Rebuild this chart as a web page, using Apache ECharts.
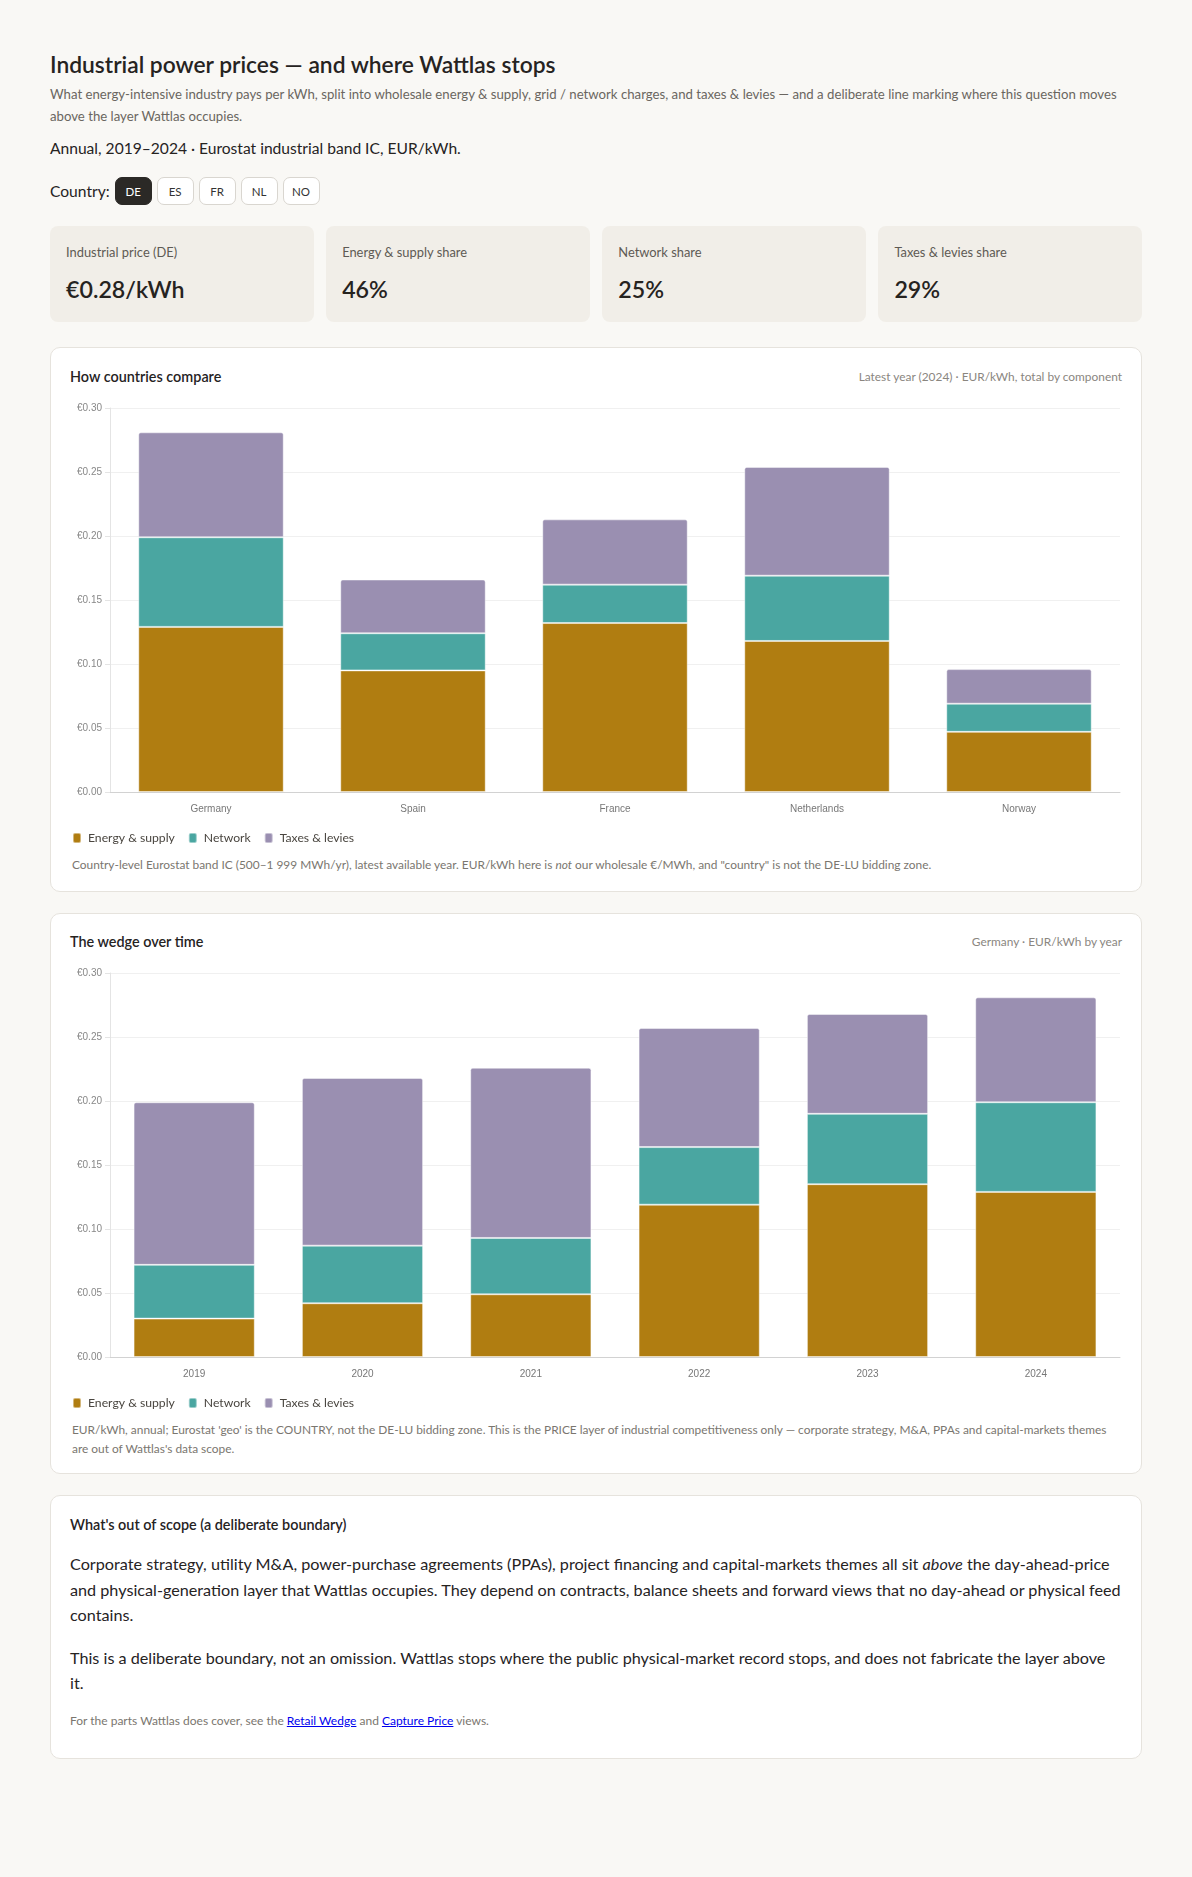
<!DOCTYPE html>
<html>
<head>
<meta charset="utf-8">
<title>Industrial power prices</title>
<script src="https://cdn.jsdelivr.net/npm/echarts@6/dist/echarts.min.js"></script>
<style>
  html, body { margin: 0; padding: 0; background: #f9f8f5; }
  body { font-family: Lato, "Open Sans", sans-serif; color: #26231f; }
  .page { width: 1092px; margin: 0 0 0 50px; padding-top: 50px; height: 1827px; }
  h1 { margin: 0; font-size: 22.8px; line-height: 28px; font-weight: 600; }
  .lede { margin: 6px 0 0; font-size: 13.2px; line-height: 21.5px; color: #6a6660; }
  .meta { margin: 10px 0 0; font-size: 15.6px; line-height: 22px; }
  .country { margin-top: 18px; height: 28px; display: flex; align-items: center; font-size: 15.6px; }
  .country span { margin-right: 5px; }
  .country button { width: 37px; height: 28px; margin-right: 5px; border: 1px solid #d9d6d0; border-radius: 7px;
    background: #fff; color: #333; font: 11.5px Lato, sans-serif; padding: 0; }
  .country button.on { background: #2b2926; border-color: #2b2926; color: #fff; }
  .kpis { margin-top: 21px; display: flex; gap: 12.5px; }
  .kpi { flex: 1; height: 96px; box-sizing: border-box; padding: 16px 16px 0; background: #f1eee8; border-radius: 8px; }
  .kpi .lab { font-size: 12.9px; line-height: 20px; color: #5e5a54; }
  .kpi .val { margin-top: 12px; font-size: 23.2px; line-height: 30px; font-weight: 600; }
  .card { margin-top: 25px; background: #fff; border: 1px solid #e6e3dd; border-radius: 10px; padding: 18px 19px 17px; }
  .card + .card { margin-top: 21px; }
  .card.wedge { padding-top: 17px; padding-bottom: 15px; }
  .head { display: flex; justify-content: space-between; align-items: center; height: 20px; }
  .head .t { font-size: 14.4px; font-weight: 600; }
  .head .m { font-size: 11.9px; color: #8a867f; }
  .chart { width: 1052px; height: 470px; }
  .note { margin: -1px 0 0 2px; font-size: 11.9px; line-height: 19px; color: #7a766f; }
  .scope p { margin: 17px 0 0; font-size: 16.2px; line-height: 25.5px; }
  .scope p.foot { margin-top: 16px; font-size: 12px; line-height: 17px; color: #7a766f; }
  .scope p.foot a { color: #0000ee; }
  .scope { padding-bottom: 29px; }
</style>
</head>
<body>
<div class="page">
  <h1>Industrial power prices — and where Wattlas stops</h1>
  <p class="lede">What energy-intensive industry pays per kWh, split into wholesale energy &amp; supply, grid / network charges, and taxes &amp; levies — and a deliberate line marking where this question moves above the layer Wattlas occupies.</p>
  <p class="meta">Annual, 2019–2024 · Eurostat industrial band IC, EUR/kWh.</p>
  <div class="country"><span>Country:</span><button class="on">DE</button><button>ES</button><button>FR</button><button>NL</button><button>NO</button></div>
  <div class="kpis">
    <div class="kpi"><div class="lab">Industrial price (DE)</div><div class="val" id="kTotal"></div></div>
    <div class="kpi"><div class="lab">Energy &amp; supply share</div><div class="val" id="kEnergy"></div></div>
    <div class="kpi"><div class="lab">Network share</div><div class="val" id="kNetwork"></div></div>
    <div class="kpi"><div class="lab">Taxes &amp; levies share</div><div class="val" id="kTaxes"></div></div>
  </div>

  <div class="card">
    <div class="head"><span class="t">How countries compare</span><span class="m">Latest year (2024) · EUR/kWh, total by component</span></div>
    <div id="countryChart" class="chart"></div>
    <p class="note">Country-level Eurostat band IC (500–1 999 MWh/yr), latest available year. EUR/kWh here is <em>not</em> our wholesale €/MWh, and "country" is not the DE-LU bidding zone.</p>
  </div>

  <div class="card wedge">
    <div class="head"><span class="t">The wedge over time</span><span class="m">Germany · EUR/kWh by year</span></div>
    <div id="yearChart" class="chart"></div>
    <p class="note">EUR/kWh, annual; Eurostat 'geo' is the COUNTRY, not the DE-LU bidding zone. This is the PRICE layer of industrial competitiveness only — corporate strategy, M&amp;A, PPAs and capital-markets themes are out of Wattlas's data scope.</p>
  </div>

  <div class="card scope">
    <div class="head"><span class="t">What's out of scope (a deliberate boundary)</span></div>
    <p>Corporate strategy, utility M&amp;A, power-purchase agreements (PPAs), project financing and capital-markets themes all sit <em>above</em> the day-ahead-price and physical-generation layer that Wattlas occupies. They depend on contracts, balance sheets and forward views that no day-ahead or physical feed contains.</p>
    <p>This is a deliberate boundary, not an omission. Wattlas stops where the public physical-market record stops, and does not fabricate the layer above<br>it.</p>
    <p class="foot">For the parts Wattlas does cover, see the <a href="#">Retail Wedge</a> and <a href="#">Capture Price</a> views.</p>
  </div>
</div>

<script>
// latest year (2024), EUR/kWh
const countries = ['Germany', 'Spain', 'France', 'Netherlands', 'Norway']
const countryEnergy = [0.129, 0.095, 0.132, 0.118, 0.047]
const countryNetwork = [0.070, 0.029, 0.030, 0.051, 0.022]
const countryTaxes = [0.082, 0.042, 0.051, 0.085, 0.027]

// Germany by year, EUR/kWh
const years = ['2019', '2020', '2021', '2022', '2023', '2024']
const deEnergy = [0.030, 0.042, 0.049, 0.119, 0.135, 0.129]
const deNetwork = [0.042, 0.045, 0.044, 0.045, 0.055, 0.070]
const deTaxes = [0.127, 0.131, 0.133, 0.093, 0.078, 0.082]

const seriesNames = ['Energy & supply', 'Network', 'Taxes & levies']
const seriesColors = ['#b07d11', '#4aa6a1', '#9a8fb1']

// KPI cards from Germany's latest year
const deTotal = countryEnergy[0] + countryNetwork[0] + countryTaxes[0]
const pct = v => Math.round(v / deTotal * 100) + '%'
document.getElementById('kTotal').textContent = '€' + deTotal.toFixed(2) + '/kWh'
document.getElementById('kEnergy').textContent = pct(countryEnergy[0])
document.getElementById('kNetwork').textContent = pct(countryNetwork[0])
document.getElementById('kTaxes').textContent = pct(countryTaxes[0])

const buildOption = (cats, energy, network, taxes) => {
  const parts = [energy, network, taxes]
  return {
    animation: false,
    textStyle: { fontFamily: '"Liberation Sans", Arial, sans-serif' },
    color: seriesColors,
    grid: { left: 40, right: 2, top: 22, bottom: 64 },
    legend: {
      left: 2,
      top: 446,
      padding: 0,
      icon: 'roundRect',
      itemWidth: 8,
      itemHeight: 10,
      itemGap: 13,
      textStyle: { fontFamily: 'Lato, sans-serif', fontSize: 12.2, color: '#4a4640', padding: [0, 0, 0, 2] },
      data: seriesNames
    },
    xAxis: {
      type: 'category',
      data: cats,
      axisLine: { lineStyle: { color: '#d2d2d2' } },
      axisTick: { show: false },
      axisLabel: { color: '#777', fontSize: 10, margin: 12 }
    },
    yAxis: {
      type: 'value',
      min: 0,
      max: 0.3,
      interval: 0.05,
      axisLine: { show: true, lineStyle: { color: '#e4e4e4' } },
      axisTick: { show: true, length: 5, lineStyle: { color: '#e4e4e4' } },
      axisLabel: { color: '#888', fontSize: 10, formatter: v => '€' + v.toFixed(2) },
      splitLine: { lineStyle: { color: '#f0f0f0' } }
    },
    series: parts.map((data, i) => ({
      name: seriesNames[i],
      type: 'bar',
      stack: 'total',
      barWidth: '72%',
      data: data,
      itemStyle: {
        borderColor: 'rgba(255,255,255,0.45)',
        borderWidth: 1,
        borderRadius: i === 2 ? [2, 2, 0, 0] : 0
      }
    }))
  }
}

const countryChart = echarts.init(document.getElementById('countryChart'))
countryChart.setOption(buildOption(countries, countryEnergy, countryNetwork, countryTaxes))

const yearChart = echarts.init(document.getElementById('yearChart'))
yearChart.setOption(buildOption(years, deEnergy, deNetwork, deTaxes))
</script>
</body>
</html>
